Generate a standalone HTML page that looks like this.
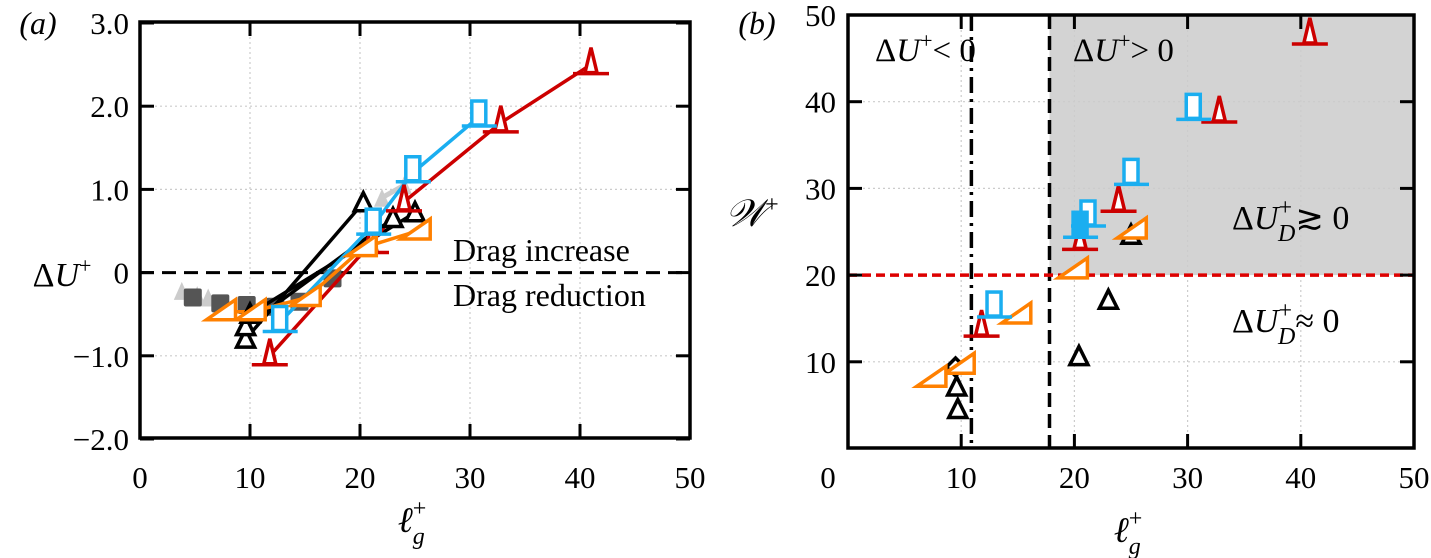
<!DOCTYPE html>
<html><head><meta charset="utf-8"><style>
body{margin:0;background:#fff}
svg{display:block;font-family:"Liberation Serif",serif}
</style></head><body>
<svg id="fig" width="1431" height="558" viewBox="0 0 1431 558"></svg>
<script>
// ---- panel (a) data ----
const redA = [[11.8,-1.0],[21,0.35],[24,0.85],[32.8,1.8],[41,2.5]];
const blueA = [[12.7,-0.6],[21.2,0.57],[24.8,1.2],[30.8,1.87]];
const orangeA = [[7.5,-0.47],[10.2,-0.47],[15.2,-0.3],[20.3,0.3],[25.2,0.5]];
const black1A = [[9.6,-0.8],[20.3,0.84]];
const black2A = [[9.6,-0.65],[23,0.65]];
const black3A = [[10,-0.5],[25,0.72]];
const greySqA = [[4.8,-0.3],[7.3,-0.37],[9.7,-0.39],[12.3,-0.41],[14.5,-0.35],[17.5,-0.07]];
const lightTriA = [[3.8,-0.22],[5.2,-0.27],[6.2,-0.3],[22,0.9],[24,1.05]];
const yTicksA = [3,2,1,0,-1,-2];
const yTickLabA = ["3.0","2.0","1.0","0","\u22121.0","\u22122.0"];
const xTicks = [0,10,20,30,40,50];
// ---- panel (b) data ----
const blueB = [[30.5,39],[25,31.5],[21.2,26.7],[12.9,16.2]];
const blueFilledB = [[20.5,25.4]];
const redB = [[40.8,47.7],[32.8,38.7],[23.9,28.4],[20.5,24],[11.8,14]];
const orangeB = [[25.2,25.2],[20,20.6],[15,15.4],[10,9.6],[7.5,8.1]];
const blackB = [[23,17.1],[20.4,10.6],[9.6,7.1],[9.7,4.5],[25,24.6]];
const diamondB = [[9.5,9.4]];
const yTicksB = [50,40,30,20,10];

const NS="http://www.w3.org/2000/svg";
const svg=document.getElementById('fig');
function el(tag,attrs,parent){const e=document.createElementNS(NS,tag);for(const k in attrs)e.setAttribute(k,attrs[k]);(parent||svg).appendChild(e);return e;}
function txt(s,x,y,size,anchor,parent,style){const t=el('text',{x:x,y:y,'font-size':size,'text-anchor':anchor||'middle'},parent);if(style)t.setAttribute('font-style',style);t.textContent=s;return t;}

const ax={x:v=>140+v*11,y:v=>272.6-v*83.2};
const bx={x:v=>848+v*11.32,y:v=>448.5-v*8.67};

const RED="#cc0000",BLUE="#1aaef0",ORANGE="#ff8000";
const SW=3.5;
function mRed(g,px,py){el('polygon',{points:`${px},${py-17} ${px-6},${py+8} ${px+6},${py+8}`,fill:'#fff',stroke:RED,'stroke-width':SW},g);el('line',{x1:px-18,y1:py+9,x2:px+18,y2:py+9,stroke:RED,'stroke-width':SW},g);}
function mBlue(g,px,py,filled){el('rect',{x:px-7,y:py-16,width:14,height:24,fill:filled?BLUE:'#fff',stroke:BLUE,'stroke-width':SW},g);el('line',{x1:px-17,y1:py+9,x2:px+18,y2:py+9,stroke:BLUE,'stroke-width':SW},g);}
function mOrange(g,px,py){el('polygon',{points:`${px-16},${py+8} ${px+13},${py+8} ${px+13},${py-12}`,fill:'#fff',stroke:ORANGE,'stroke-width':SW},g);}
function mBlack(g,px,py){el('polygon',{points:`${px-9},${py+8} ${px+9},${py+8} ${px},${py-10}`,fill:'#fff',stroke:'#000','stroke-width':SW},g);}
function mDiamond(g,px,py){el('polygon',{points:`${px},${py-9} ${px+9},${py} ${px},${py+9} ${px-9},${py}`,fill:'#fff',stroke:'#000','stroke-width':SW},g);}
function line(g,data,A,color,w){el('polyline',{points:data.map(d=>A.x(d[0])+','+A.y(d[1])).join(' '),fill:'none',stroke:color,'stroke-width':w||3.5},g);}

// ===== Panel a =====
const ga=el('g',{});


[10,20,30,40].forEach(v=>{el('line',{x1:ax.x(v),y1:22,x2:ax.x(v),y2:438,stroke:'#ccc','stroke-width':1.2,'stroke-dasharray':'2,3'},ga);});
[2,1,-1].forEach(v=>{el('line',{x1:140,y1:ax.y(v),x2:690,y2:ax.y(v),stroke:'#ccc','stroke-width':1.2,'stroke-dasharray':'2,3'},ga);});
el('line',{x1:140,y1:ax.y(0),x2:690,y2:ax.y(0),stroke:'#000','stroke-width':3,'stroke-dasharray':'14,8'},ga);
line(ga,lightTriA.slice(3),ax,'#ccc',5);
lightTriA.forEach(d=>{const p=el('polygon',{points:`${ax.x(d[0])-8},${ax.y(d[1])+9} ${ax.x(d[0])+8},${ax.y(d[1])+9} ${ax.x(d[0])},${ax.y(d[1])-9}`,fill:'#ccc'},ga);});
greySqA.forEach(d=>{const r=el('rect',{x:ax.x(d[0])-9,y:ax.y(d[1])-9,width:18,height:18,fill:'#555',rx:2},ga);});
line(ga,black1A,ax,'#000');line(ga,black2A,ax,'#000');line(ga,black3A,ax,'#000');
line(ga,redA,ax,RED);line(ga,orangeA,ax,ORANGE);line(ga,blueA,ax,BLUE);
[black1A,black2A,black3A].forEach(s=>s.forEach(d=>mBlack(ga,ax.x(d[0]),ax.y(d[1]))));
redA.forEach(d=>mRed(ga,ax.x(d[0]),ax.y(d[1])));
orangeA.forEach(d=>mOrange(ga,ax.x(d[0]),ax.y(d[1])));
blueA.forEach(d=>mBlue(ga,ax.x(d[0]),ax.y(d[1])));
el('rect',{x:140,y:22,width:550,height:416,fill:'none',stroke:'#000','stroke-width':3.5},ga);
xTicks.forEach(v=>{el('line',{x1:ax.x(v),y1:438,x2:ax.x(v),y2:424,stroke:'#000','stroke-width':3},ga);el('line',{x1:ax.x(v),y1:22,x2:ax.x(v),y2:36,stroke:'#000','stroke-width':3},ga);txt(String(v),ax.x(v),488,31,'middle',ga);});
yTicksA.forEach((v,i)=>{el('line',{x1:140,y1:ax.y(v),x2:154,y2:ax.y(v),stroke:'#000','stroke-width':3},ga);el('line',{x1:690,y1:ax.y(v),x2:676,y2:ax.y(v),stroke:'#000','stroke-width':3},ga);txt(yTickLabA[i],129,ax.y(v)+11,31,'end',ga);});
txt('(a)',38,34,32,'middle',ga,'italic');
txt('Drag increase',453,261,32,'start',ga);
txt('Drag reduction',453,306,32,'start',ga);
const yla=txt('',62,286,34,'middle',ga);yla.innerHTML='\u0394<tspan font-style="italic">U</tspan><tspan dy="-13" font-size="22">+</tspan>';
const xla=txt('',412,532,36,'middle',ga);xla.innerHTML='<tspan font-style="italic">\u2113</tspan><tspan dy="12" font-size="24" font-style="italic">g</tspan><tspan dx="-12" dy="-28" font-size="24">+</tspan>';

// ===== Panel b =====
const gb=el('g',{});


el('rect',{x:bx.x(17.8),y:15,width:1414-bx.x(17.8),height:bx.y(20)-15,fill:'#d3d3d3'},gb);
[10,20,30,40].forEach(v=>{el('line',{x1:bx.x(v),y1:15,x2:bx.x(v),y2:448,stroke:'#ccc','stroke-width':1.2,'stroke-dasharray':'2,3'},gb);});
[40,30,10].forEach(v=>{el('line',{x1:848,y1:bx.y(v),x2:1414,y2:bx.y(v),stroke:'#ccc','stroke-width':1.2,'stroke-dasharray':'2,3'},gb);});
el('line',{x1:bx.x(10.9),y1:15,x2:bx.x(10.9),y2:448,stroke:'#000','stroke-width':3.5,'stroke-dasharray':'16,6,3,6'},gb);
el('line',{x1:bx.x(17.8),y1:15,x2:bx.x(17.8),y2:448,stroke:'#000','stroke-width':3.5,'stroke-dasharray':'14,7'},gb);
el('line',{x1:848,y1:bx.y(20),x2:1414,y2:bx.y(20),stroke:'#dd0000','stroke-width':3.5,'stroke-dasharray':'9,5'},gb);
blackB.forEach(d=>mBlack(gb,bx.x(d[0]),bx.y(d[1])));
diamondB.forEach(d=>mDiamond(gb,bx.x(d[0]),bx.y(d[1])));
redB.forEach(d=>mRed(gb,bx.x(d[0]),bx.y(d[1])));
orangeB.forEach(d=>mOrange(gb,bx.x(d[0]),bx.y(d[1])));
blueB.forEach(d=>mBlue(gb,bx.x(d[0]),bx.y(d[1])));
blueFilledB.forEach(d=>mBlue(gb,bx.x(d[0]),bx.y(d[1]),true));
el('rect',{x:848,y:15,width:566,height:433,fill:'none',stroke:'#000','stroke-width':3.5},gb);
xTicks.forEach(v=>{el('line',{x1:bx.x(v),y1:448,x2:bx.x(v),y2:434,stroke:'#000','stroke-width':3},gb);el('line',{x1:bx.x(v),y1:15,x2:bx.x(v),y2:29,stroke:'#000','stroke-width':3},gb);txt(String(v),v===0?828:bx.x(v),488,31,'middle',gb);});
yTicksB.forEach(v=>{el('line',{x1:848,y1:bx.y(v),x2:862,y2:bx.y(v),stroke:'#000','stroke-width':3},gb);el('line',{x1:1414,y1:bx.y(v),x2:1400,y2:bx.y(v),stroke:'#000','stroke-width':3},gb);txt(String(v),836,bx.y(v)+11,31,'end',gb);});
txt('(b)',757,34,32,'middle',gb,'italic');
const t1=txt('',875,61,33,'start',gb);t1.innerHTML='\u0394<tspan font-style="italic">U</tspan><tspan dy="-13" font-size="22">+</tspan><tspan dy="13">&lt; 0</tspan>';
const t2=txt('',1073,61,33,'start',gb);t2.innerHTML='\u0394<tspan font-style="italic">U</tspan><tspan dy="-13" font-size="22">+</tspan><tspan dy="13">&gt; 0</tspan>';
const t3=txt('',1232,229,34,'start',gb);t3.innerHTML='\u0394<tspan font-style="italic">U</tspan><tspan dy="-14" font-size="24">+</tspan><tspan dx="-14" dy="26" font-size="24" font-style="italic">D</tspan><tspan dy="-12">\u2273 0</tspan>';
const t4=txt('',1232,332,34,'start',gb);t4.innerHTML='\u0394<tspan font-style="italic">U</tspan><tspan dy="-14" font-size="24">+</tspan><tspan dx="-14" dy="26" font-size="24" font-style="italic">D</tspan><tspan dy="-12">\u2248 0</tspan>';
const ylb=txt('',752,226,38,'middle',gb);ylb.innerHTML='<tspan font-style="italic">\ud835\udcb2</tspan><tspan dy="-14" font-size="24">+</tspan>';
const xlb=txt('',1128,542,36,'middle',gb);xlb.innerHTML='<tspan font-style="italic">\u2113</tspan><tspan dy="12" font-size="24" font-style="italic">g</tspan><tspan dx="-12" dy="-28" font-size="24">+</tspan>';
</script>
</body></html>
